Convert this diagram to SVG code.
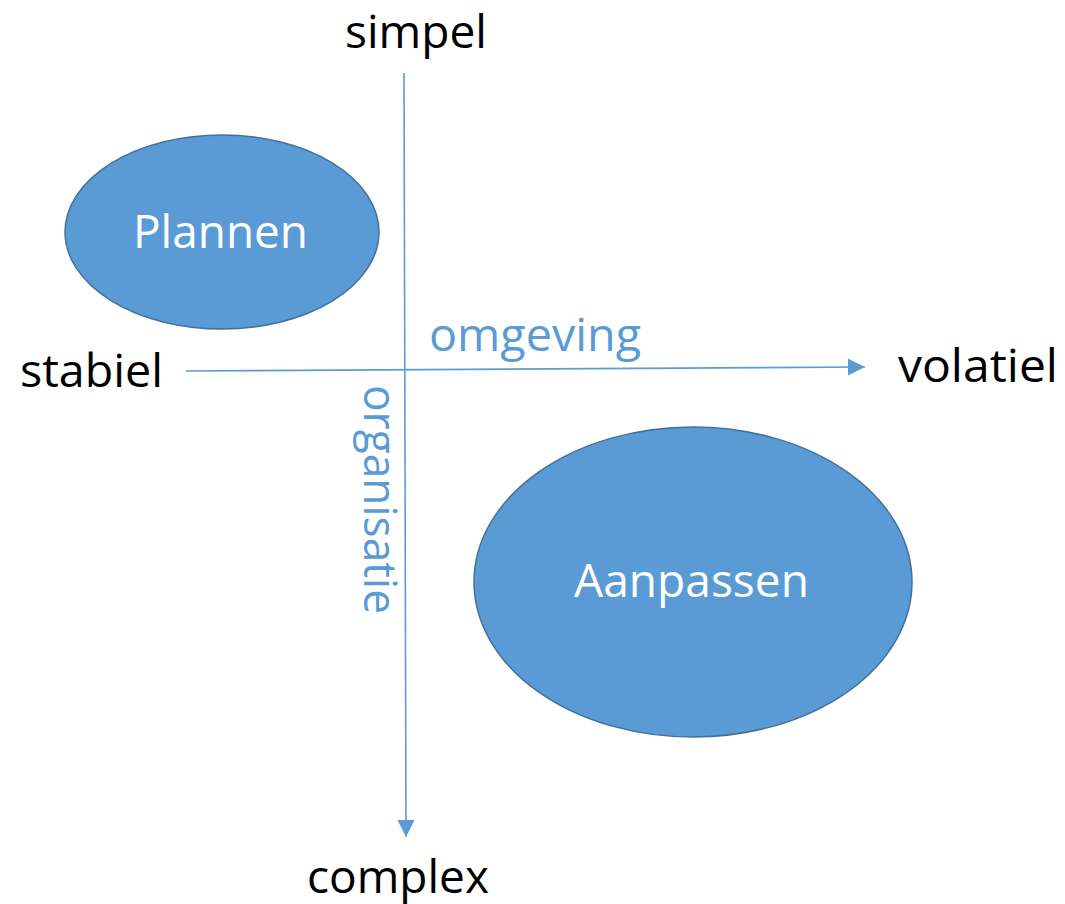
<svg xmlns="http://www.w3.org/2000/svg" width="1065" height="904" viewBox="0 0 1065 904">
<style>
.lbl{font-family:"Open Sans","Noto Sans","Liberation Sans",sans-serif;font-size:45px;fill:#000}
.axis{font-family:"Open Sans","Noto Sans","Liberation Sans",sans-serif;font-size:45px;fill:#5B9BD5}
.node{fill:#5B9BD5;stroke:#41719C;stroke-width:1.5}
.ntxt{font-family:"Open Sans","Noto Sans","Liberation Sans",sans-serif;font-size:45px;fill:#fff}
.ax{stroke:#5B9BD5;stroke-width:1.6;fill:none}
</style>
<defs>
<marker id="arr" viewBox="0 0 10 10" refX="10" refY="5" markerWidth="17" markerHeight="17" markerUnits="userSpaceOnUse" orient="auto">
<path d="M0,0 L10,5 L0,10 Z" fill="#5B9BD5"/>
</marker>
</defs>
<rect width="1065" height="904" fill="#fff"/>
<g id="connectors">
<line class="ax" x1="186" y1="371" x2="865" y2="367" marker-end="url(#arr)"/>
<line class="ax" x1="404" y1="73" x2="406" y2="837" marker-end="url(#arr)"/>
</g>
<g id="node-plannen">
<ellipse class="node" cx="222" cy="232" rx="157" ry="97"/>
<text class="ntxt" x="133" y="248" textLength="175" lengthAdjust="spacingAndGlyphs">Plannen</text>
</g>
<g id="node-aanpassen">
<ellipse class="node" cx="693" cy="582" rx="219" ry="155"/>
<text class="ntxt" x="574" y="597" textLength="235" lengthAdjust="spacingAndGlyphs">Aanpassen</text>
</g>
<g id="labels">
<text class="lbl" x="345" y="48" textLength="142" lengthAdjust="spacingAndGlyphs">simpel</text>
<text class="lbl" x="20" y="387" textLength="143" lengthAdjust="spacingAndGlyphs">stabiel</text>
<text class="lbl" x="898" y="382" textLength="160" lengthAdjust="spacingAndGlyphs">volatiel</text>
<text class="lbl" x="307" y="893" textLength="182" lengthAdjust="spacingAndGlyphs">complex</text>
<text class="axis" x="429" y="351" textLength="212" lengthAdjust="spacingAndGlyphs">omgeving</text>
<text class="axis" transform="translate(364,385) rotate(90)" x="0" y="0" textLength="229" lengthAdjust="spacingAndGlyphs">organisatie</text>
</g>
</svg>
